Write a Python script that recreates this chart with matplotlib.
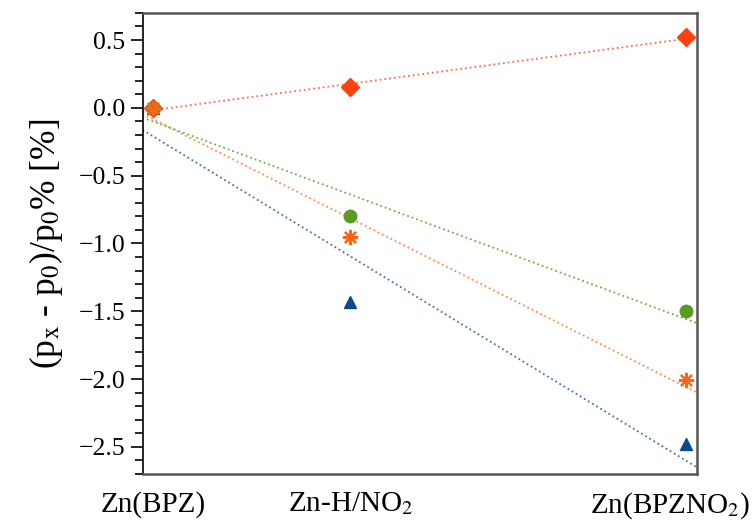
import numpy as np
import matplotlib
matplotlib.use("Agg")
import matplotlib.pyplot as plt
import matplotlib.transforms as mtransforms

plt.rcParams['font.family'] = ['Liberation Serif', 'DejaVu Serif']
plt.rcParams['mathtext.fontset'] = 'stix'

categories = ["Zn(BPZ)", "Zn-H/NO$_2$", "Zn(BPZNO$_2$)"]
x_pos = [0.0, 0.37, 1.0]
red_vals = [0.0, 0.15, 0.52]
green_vals = [0.0, -0.80, -1.50]
orange_vals = [0.0, -0.95, -2.01]
blue_vals = [0.0, -1.43, -2.48]

fig = plt.figure(figsize=(7.54, 5.24), dpi=100)
ax = fig.add_axes([0.189, 0.0954, 0.736, 0.88])

xlim = (-0.02, 1.0206)
xs = np.array(x_pos)
xl = np.linspace(xlim[0], xlim[1], 50)

series = [
    (blue_vals, '#0b4a8b', '#3f73b5', '^'),
    (red_vals, '#ff4010', '#ff6a4a', 'D'),
    (green_vals, '#5b9b22', '#6fae3e', 'o'),
    (orange_vals, '#ff6414', '#ff8a45', (8, 2, 0)),
]
for vals, mc, lc, mk in series:
    k, b = np.polyfit(xs, np.array(vals), 1)
    ax.plot(xl, k * xl + b, ls=':', lw=1.3, color=lc, zorder=2)
for vals, mc, lc, mk in series:
    if mk == (8, 2, 0):
        ax.plot(xs, vals, ls='none', marker=mk, ms=11, mew=1.6, color=mc, zorder=3)
    else:
        ax.plot(xs, vals, ls='none', marker=mk, ms=9, color=mc, mec=mc, zorder=3)

ax.set_xlim(*xlim)
ax.set_ylim(-2.7, 0.7)
ax.set_yticks([0.5, 0.0, -0.5, -1.0, -1.5, -2.0, -2.5])
ax.set_yticklabels(['0.5', '0.0', '\u22120.5', '\u22121.0', '\u22121.5', '\u22122.0', '\u22122.5'])
ax.set_yticks(np.arange(-2.7, 0.71, 0.1), minor=True)
ax.tick_params(axis='y', which='major', length=9, width=1.2, labelsize=18.5, direction='out')
ax.tick_params(axis='y', which='minor', length=5.5, width=1.2, direction='out')
ax.set_xticks(x_pos)
ax.set_xticklabels(categories)
ax.tick_params(axis='x', which='both', length=0, labelsize=21, pad=12)
lbls = ax.get_xticklabels()
off = mtransforms.ScaledTranslation(-16 / 100, 0, fig.dpi_scale_trans)
lbls[2].set_transform(lbls[2].get_transform() + off)

for s in ['top', 'right', 'bottom']:
    ax.spines[s].set_color('#555555')
    ax.spines[s].set_linewidth(1.8)
ax.spines['left'].set_color('black')
ax.spines['left'].set_linewidth(1.2)

ax.set_ylabel("(p$_\\mathrm{x}$ - p$_0$)/p$_0$% [%]", fontsize=25.5, labelpad=10)

fig.savefig("out.png", dpi=100)
